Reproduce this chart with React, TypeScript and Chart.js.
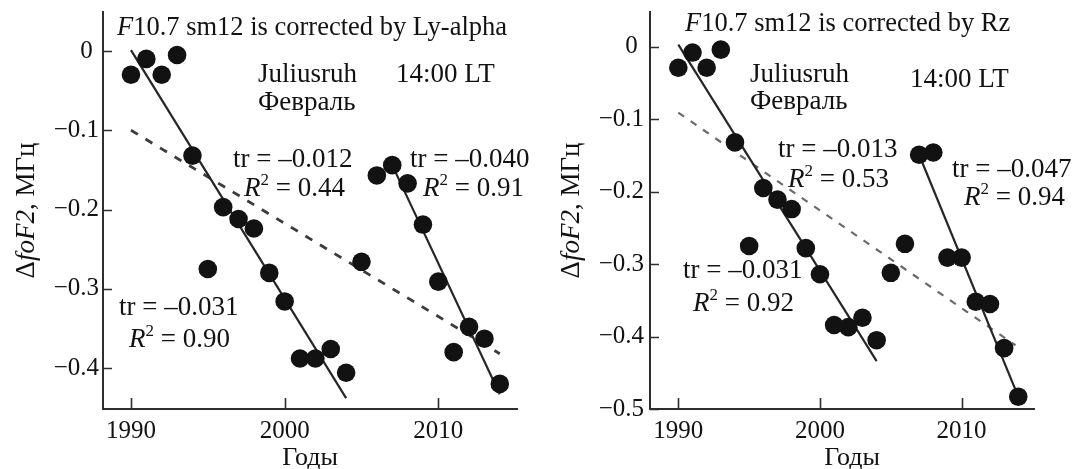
import React, { useEffect, useRef } from "react";
import { Chart, registerables } from "chart.js";

Chart.register(...registerables);

// ---------- data ----------
const years = [
  1990, 1991, 1992, 1993, 1994, 1995, 1996, 1997, 1998, 1999, 2000, 2001, 2002,
  2003, 2004, 2005, 2006, 2007, 2008, 2009, 2010, 2011, 2012, 2013, 2014,
];
const lyAlphaValues = [
  -0.03, -0.01, -0.03, -0.005, -0.132, -0.275, -0.197, -0.212, -0.224, -0.28,
  -0.316, -0.388, -0.388, -0.376, -0.406, -0.266, -0.157, -0.144, -0.167,
  -0.219, -0.291, -0.38, -0.348, -0.363, -0.42,
];
const rzValues = [
  -0.029, -0.008, -0.029, -0.004, -0.132, -0.275, -0.195, -0.211, -0.224,
  -0.278, -0.314, -0.384, -0.387, -0.374, -0.405, -0.312, -0.272, -0.149,
  -0.146, -0.291, -0.291, -0.352, -0.355, -0.416, -0.483,
];

// trend lines (end points)
const lyEarlyTrendYears = [1990, 2004];
const lyEarlyTrendValues = [0.001, -0.438];
const lyLateTrendYears = [2007, 2014];
const lyLateTrendValues = [-0.144, -0.433];
const lyAllTrendYears = [1990, 2014];
const lyAllTrendValues = [-0.1, -0.382];

const rzEarlyTrendYears = [1990, 2004];
const rzEarlyTrendValues = [0.003, -0.434];
const rzLateTrendYears = [2007, 2014];
const rzLateTrendValues = [-0.149, -0.483];
const rzAllTrendYears = [1990, 2013.8];
const rzAllTrendValues = [-0.091, -0.412];

// ticks
const xTickValues = [1990, 2000, 2010];
const lyYTickValues = [0, -0.1, -0.2, -0.3, -0.4];
const rzYTickValues = [0, -0.1, -0.2, -0.3, -0.4, -0.5];

// texts
const lyTitle = "10.7 sm12 is corrected by Ly-alpha";
const rzTitle = "10.7 sm12 is corrected by Rz";
const stationText = "Juliusruh";
const timeText = "14:00 LT";
const monthText = "Февраль";
const xAxisTitle = "Годы";
const lyAllTr = "–0.012";
const lyAllR2 = "0.44";
const lyLateTr = "–0.040";
const lyLateR2 = "0.91";
const lyEarlyTr = "–0.031";
const lyEarlyR2 = "0.90";
const rzAllTr = "–0.013";
const rzAllR2 = "0.53";
const rzLateTr = "–0.047";
const rzLateR2 = "0.94";
const rzEarlyTr = "–0.031";
const rzEarlyR2 = "0.92";

// ---------- styling ----------
const FONT = '"Liberation Serif", "Times New Roman", "DejaVu Serif", serif';
const INK = "#121212";
const AX = "#2e2e2e";
const ANN = 27;

type Run = { t: string; italic?: boolean; size?: number; dy?: number };
type Label = { x: number; y: number; runs: Run[]; size: number };

function drawRuns(ctx: CanvasRenderingContext2D, lab: Label) {
  let cx = lab.x;
  ctx.textAlign = "left";
  ctx.textBaseline = "alphabetic";
  ctx.fillStyle = INK;
  for (const r of lab.runs) {
    const s = r.size ?? lab.size;
    ctx.font = `${r.italic ? "italic " : ""}${s}px ${FONT}`;
    ctx.fillText(r.t, cx, lab.y + (r.dy ?? 0));
    cx += ctx.measureText(r.t).width;
  }
}

function trLabel(x: number, y: number, v: string): Label {
  return { x, y, size: ANN, runs: [{ t: "tr = " + v }] };
}
function r2Label(x: number, y: number, v: string): Label {
  return {
    x,
    y,
    size: ANN,
    runs: [
      { t: "R", italic: true },
      { t: "2", size: 17, dy: -11 },
      { t: " = " + v },
    ],
  };
}

type PanelCfg = {
  values: number[];
  early: [number[], number[]];
  late: [number[], number[]];
  all: [number[], number[]];
  yTicks: number[];
  xMin: number;
  xMax: number;
  yMin: number;
  yMax: number;
  axisWidth: number;
  rightPad: number;
  tickPad: number;
  dashColor: string;
  dashWidth: number;
  dash: number[];
  labels: Label[];
  xTitleX: number;
  yTitleX: number;
};

const pts = (xs: number[], ys: number[]) => xs.map((x, i) => ({ x, y: ys[i] }));

function makeChart(canvas: HTMLCanvasElement, cfg: PanelCfg) {
  const textPlugin = {
    id: "panelText",
    afterDraw(chart: any) {
      const ctx: CanvasRenderingContext2D = chart.ctx;
      const xs = chart.scales.x;
      const ys = chart.scales.y;
      const area = chart.chartArea;
      ctx.save();
      // inward tick marks
      ctx.strokeStyle = AX;
      ctx.lineWidth = 1.6;
      ctx.beginPath();
      for (const v of xTickValues) {
        const px = Math.round(xs.getPixelForValue(v)) + 0.5;
        ctx.moveTo(px, area.bottom);
        ctx.lineTo(px, area.bottom - 11);
      }
      for (const v of cfg.yTicks) {
        const py = Math.round(ys.getPixelForValue(v)) + 0.5;
        ctx.moveTo(area.left, py);
        ctx.lineTo(area.left + 9, py);
      }
      ctx.stroke();
      // annotations
      for (const lab of cfg.labels) drawRuns(ctx, lab);
      // x title
      ctx.fillStyle = INK;
      ctx.font = `26px ${FONT}`;
      ctx.textAlign = "center";
      ctx.textBaseline = "alphabetic";
      ctx.fillText(xAxisTitle, cfg.xTitleX, 465);
      // y title (rotated)
      const yRuns: Run[] = [
        { t: "Δ" },
        { t: "foF2", italic: true },
        { t: ", МГц" },
      ];
      ctx.translate(cfg.yTitleX, (area.top + area.bottom) / 2);
      ctx.rotate(-Math.PI / 2);
      let total = 0;
      for (const r of yRuns) {
        ctx.font = `${r.italic ? "italic " : ""}27px ${FONT}`;
        total += ctx.measureText(r.t).width;
      }
      drawRuns(ctx, { x: -total / 2, y: 9, size: 27, runs: yRuns });
      ctx.restore();
    },
  };

  return new Chart(canvas, {
    type: "scatter",
    data: {
      datasets: [
        {
          data: pts(years, cfg.values),
          pointRadius: 9.3,
          pointHoverRadius: 9.3,
          backgroundColor: INK,
          borderWidth: 0,
        },
        {
          data: pts(cfg.early[0], cfg.early[1]),
          showLine: true,
          pointRadius: 0,
          borderColor: "#262626",
          borderWidth: 2.2,
        },
        {
          data: pts(cfg.late[0], cfg.late[1]),
          showLine: true,
          pointRadius: 0,
          borderColor: "#262626",
          borderWidth: 2.2,
        },
        {
          data: pts(cfg.all[0], cfg.all[1]),
          showLine: true,
          pointRadius: 0,
          borderColor: cfg.dashColor,
          borderWidth: cfg.dashWidth,
          borderDash: cfg.dash,
        },
      ],
    } as any,
    options: {
      animation: false,
      responsive: false,
      events: [],
      layout: { padding: { top: 12, right: cfg.rightPad, left: 0, bottom: 0 } },
      plugins: {
        legend: { display: false },
        tooltip: { enabled: false },
        title: { display: false },
      },
      scales: {
        x: {
          type: "linear",
          min: cfg.xMin,
          max: cfg.xMax,
          grid: { display: false, drawTicks: false },
          border: { display: true, color: AX, width: 2 },
          afterBuildTicks: (s: any) => {
            s.ticks = xTickValues.map((v) => ({ value: v }));
          },
          afterFit: (s: any) => {
            s.height = 60;
            s.paddingLeft = 0;
            s.paddingRight = 0;
          },
          ticks: {
            padding: 7,
            color: INK,
            font: { family: FONT, size: 25 },
            maxRotation: 0,
            callback: (v: any) => String(v),
          },
        },
        y: {
          type: "linear",
          min: cfg.yMin,
          max: cfg.yMax,
          grid: { display: false, drawTicks: false },
          border: { display: true, color: AX, width: 2 },
          afterBuildTicks: (s: any) => {
            s.ticks = cfg.yTicks.map((v) => ({ value: v }));
          },
          afterFit: (s: any) => {
            s.width = cfg.axisWidth;
            s.paddingTop = 0;
            s.paddingBottom = 0;
          },
          ticks: {
            padding: cfg.tickPad,
            color: INK,
            font: { family: FONT, size: 25 },
            callback: (v: any) =>
              Math.abs(v) < 1e-9 ? "0 " : "−" + Math.abs(v).toFixed(1),
          },
        },
      },
    } as any,
    plugins: [textPlugin],
  });
}

const lyCfg: PanelCfg = {
  values: lyAlphaValues,
  early: [lyEarlyTrendYears, lyEarlyTrendValues],
  late: [lyLateTrendYears, lyLateTrendValues],
  all: [lyAllTrendYears, lyAllTrendValues],
  yTicks: lyYTickValues,
  xMin: 1988.18,
  xMax: 2015.12,
  yMin: -0.4517,
  yMax: 0.0492,
  axisWidth: 103,
  rightPad: 23,
  tickPad: 4,
  dashColor: "#3c3c3c",
  dashWidth: 2.8,
  dash: [8, 9],
  xTitleX: 310,
  yTitleX: 25,
  labels: [
    { x: 117, y: 35, size: 26.5, runs: [{ t: "F", italic: true }, { t: lyTitle }] },
    { x: 258, y: 82, size: ANN, runs: [{ t: stationText }] },
    { x: 396, y: 82, size: ANN, runs: [{ t: timeText }] },
    { x: 258, y: 110, size: ANN, runs: [{ t: monthText }] },
    trLabel(233, 167, lyAllTr),
    r2Label(244, 196, lyAllR2),
    trLabel(410, 167, lyLateTr),
    r2Label(423, 196, lyLateR2),
    trLabel(119, 315, lyEarlyTr),
    r2Label(129, 347, lyEarlyR2),
  ],
};

const rzCfg: PanelCfg = {
  values: rzValues,
  early: [rzEarlyTrendYears, rzEarlyTrendValues],
  late: [rzLateTrendYears, rzLateTrendValues],
  all: [rzAllTrendYears, rzAllTrendValues],
  yTicks: rzYTickValues,
  xMin: 1988.0,
  xMax: 2015.11,
  yMin: -0.5,
  yMax: 0.048,
  axisWidth: 110,
  rightPad: 47,
  tickPad: 6,
  dashColor: "#6a6a6a",
  dashWidth: 2.2,
  dash: [7, 8],
  xTitleX: 312,
  yTitleX: 30,
  labels: [
    { x: 145, y: 31, size: 26.5, runs: [{ t: "F", italic: true }, { t: rzTitle }] },
    { x: 210, y: 82, size: ANN, runs: [{ t: stationText }] },
    { x: 370, y: 87, size: ANN, runs: [{ t: timeText }] },
    { x: 210, y: 109, size: ANN, runs: [{ t: monthText }] },
    trLabel(238, 157, rzAllTr),
    r2Label(248, 187, rzAllR2),
    trLabel(412, 177, rzLateTr),
    r2Label(424, 205, rzLateR2),
    trLabel(143, 278, rzEarlyTr),
    r2Label(153, 311, rzEarlyR2),
  ],
};

function Panel({ cfg, left, width }: { cfg: PanelCfg; left: number; width: number }) {
  const ref = useRef<HTMLCanvasElement | null>(null);
  useEffect(() => {
    if (!ref.current) return;
    const chart = makeChart(ref.current, cfg);
    return () => chart.destroy();
  }, [cfg]);
  return (
    <canvas
      ref={ref}
      width={width}
      height={469}
      style={{ position: "absolute", left, top: 0, width, height: 469, display: "block" }}
    />
  );
}

export default function App() {
  return (
    <div
      style={{
        position: "absolute",
        left: 0,
        top: 0,
        width: 1081,
        height: 469,
        background: "#ffffff",
        overflow: "hidden",
      }}
    >
      <Panel cfg={lyCfg} left={0} width={540} />
      <Panel cfg={rzCfg} left={540} width={541} />
    </div>
  );
}
